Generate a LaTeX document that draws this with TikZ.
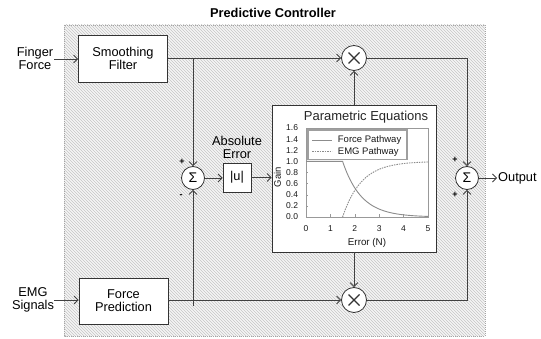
\documentclass[tikz,border=0pt]{standalone}
\usepackage{fontspec}
\setmainfont{Liberation Sans}
\usetikzlibrary{patterns,arrows.meta}
\tikzset{
  blk/.style={draw=black!80, fill=white, line width=0.8pt, minimum width=89pt, minimum height=47pt, align=center, font=\fontsize{12.8}{13}\selectfont},
  circ/.style={circle, draw=black!80, fill=white, line width=0.8pt, minimum size=23pt, inner sep=0pt},
  mult/.style={circ, minimum size=25pt, path picture={
      \draw[line width=1.1pt] ([shift={(-5.5pt,-5.5pt)}]path picture bounding box.center) -- ([shift={(5.5pt,5.5pt)}]path picture bounding box.center);
      \draw[line width=1.1pt] ([shift={(-5.5pt,5.5pt)}]path picture bounding box.center) -- ([shift={(5.5pt,-5.5pt)}]path picture bounding box.center);}},
  wire/.style={draw=black!75, line width=0.8pt},
  arr/.style={wire, -{Straight Barb[length=4pt,width=8pt]}},
  lbl/.style={align=center, font=\fontsize{12.8}{13}\selectfont, inner sep=1pt},
  sgn/.style={font=\bfseries\fontsize{9}{9}\selectfont, inner sep=0pt},
  tick/.style={font=\fontsize{8.5}{8.5}\selectfont, text=black!90, inner sep=0pt}
}
\begin{document}
\begin{tikzpicture}[x=1pt,y=-1pt]
\useasboundingbox (0,0) rectangle (541,339);
% background box
\fill[gray!8] (64,25) rectangle (485,336);
\fill[pattern=north west lines, pattern color=gray!45] (64,25) rectangle (485,336);
\draw[gray!70, line width=0.9pt, dash pattern=on 1pt off 1pt] (64,25) rectangle (485,336);
\node[font=\bfseries\fontsize{12.8}{13}\selectfont] (title) at (273,13) {Predictive Controller};

% blocks
\node[blk] (sf) at (123,58.5) {Smoothing\\Filter};
\node[blk, minimum height=46pt] (fp) at (123.5,301) {Force\\Prediction};
\node[lbl] (ff) at (35,58) {Finger\\Force};
\node[lbl] (emg) at (33,299.5) {EMG\\Signals};
\coordinate (ffo) at (54,59);
\coordinate (emgo) at (54,300);
\draw[arr] (ffo) -- (sf.west |- ffo);
\draw[arr] (emgo) -- (fp.west |- emgo);

\node[circ, font=\fontsize{14}{14}\selectfont] (s1) at (193,178) {Σ};
\node[draw=black!80, fill=white, line width=0.8pt, minimum width=28pt, minimum height=29pt, inner sep=0pt, font=\fontsize{12.8}{13}\selectfont] (abs) at (237,177.5) {|u|};
\node[lbl] (abslbl) at (237,147) {Absolute\\Error};

\node[mult] (m1) at (354,58) {};
\node[mult] (m2) at (354,300) {};
\node[circ, font=\fontsize{14}{14}\selectfont] (s2) at (467,178) {Σ};
\coordinate (outp) at (497,178);
\node[lbl, anchor=west, inner sep=1pt] (out) at (outp) {Output};

% plot box
\node[draw=black!80, fill=white, line width=0.8pt, minimum width=164pt, minimum height=147pt] (plot) at (354,178.5) {};
\node[font=\fontsize{13}{13}\selectfont, text=black!85] (ptitle) at (366,117) {Parametric Equations};

% connectors
\coordinate (b1) at (193,58.5);
\coordinate (b2e) at (193,306);
\draw[arr] (sf.east |- m1) -- (m1.west);
\draw[arr] (fp.east |- m2) -- (m2.west);
\draw[arr] (b1) -- (s1.north);
\draw[arr] (b2e) -- (s1.south);
\draw[arr] (s1.east) -- (abs.west |- s1.east);
\draw[arr] (abs.east) -- (plot.west |- abs.east);
\draw[arr] (plot.north) -- (m1.south);
\draw[arr] (plot.south) -- (m2.north);
\draw[arr] (m1.east) -| (s2.north);
\draw[arr] (m2.east) -| (s2.south);
\draw[arr] (s2.east) -- (outp);

% signs
\node[sgn] (p1) at (182,162) {+};
\node[sgn] (n1) at (181,196) {-};
\node[sgn] (p2) at (455,160) {+};
\node[sgn] (p3) at (455,195) {+};

% inner plot
\begin{scope}[shift={(306pt,-217pt)}, x=24.4pt, y=55.6pt]
  \draw[gray!80, line width=0.8pt] (0,0) rectangle (5,1.6);
  \foreach \i in {0,...,5} {
    \draw[gray!80] (\i,0) -- (\i,0.05);
    \node[tick] at (\i,-0.2) {\i};
  }
  \foreach \v/\t in {0/0.0,0.2/0.2,0.4/0.4,0.6/0.6,0.8/0.8,1.0/1.0,1.2/1.2,1.4/1.4,1.6/1.6} {
    \draw[gray!80] (0,\v) -- (0.1,\v);
    \node[tick] at (-0.57,\v) {\t};
  }
  \node[tick, font=\fontsize{9.8}{10}\selectfont] at (2.5,-0.47) {Error (N)};
  \node[tick, font=\fontsize{9.5}{10}\selectfont, rotate=90] at (-1.17,0.72) {Gain};
  \draw[gray!90, line width=0.9pt] (0,1) -- (1.5,1) -- plot[domain=1.5:5, samples=60, smooth] (\x,{exp(-1.3*(\x-1.5))});
  \draw[gray!90, line width=0.9pt, dash pattern=on 1.5pt off 1pt] plot[domain=1.5:5, samples=60, smooth] (\x,{1-exp(-1.3*(\x-1.5))});
  \draw[gray!75, line width=1.3pt, fill=white] (0.08,1.565) rectangle (4.14,1.04);
  \draw[gray!90, line width=0.9pt] (0.25,1.385) -- (1.07,1.385);
  \node[tick, anchor=west, font=\fontsize{9.5}{10}\selectfont] at (1.3,1.385) {Force Pathway};
  \draw[gray!90, line width=0.9pt, dash pattern=on 1.5pt off 1pt] (0.25,1.17) -- (1.07,1.17);
  \node[tick, anchor=west, font=\fontsize{9.5}{10}\selectfont] at (1.3,1.17) {EMG Pathway};
\end{scope}
\end{tikzpicture}
\end{document}
